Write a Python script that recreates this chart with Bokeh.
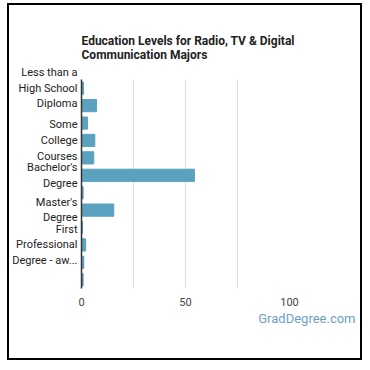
from bokeh.plotting import figure
from bokeh.models import FixedTicker, Range1d, Title, LinearAxis
from bokeh.embed import file_html
from bokeh.resources import INLINE

categories = [
    "Less than a High School Diploma",
    "High School Diploma",
    "Post-Secondary Certificate",
    "Some College Courses",
    "Associate's Degree",
    "Bachelor's Degree",
    "Post-Baccalaureate Certificate",
    "Master's Degree",
    "Post-Master's Certificate",
    "First Professional Degree - awarded",
    "Doctoral Degree",
    "Post-Doctoral Training",
]
values = [1.0, 7.2, 2.9, 6.4, 5.9, 54.3, 0.8, 15.5, 0.5, 2.0, 1.1, 0.8]
shown_labels = {
    "Less than a High School Diploma": "Less than a\nHigh School\nDiploma",
    "Some College Courses": "Some\nCollege\nCourses",
    "Bachelor's Degree": "Bachelor's\nDegree",
    "Master's Degree": "Master's\nDegree",
    "First Professional Degree - awarded": "First\nProfessional\nDegree - aw...",
}
x_ticks = [0, 50, 100]
grid_ticks = [25, 50, 75, 100]
title_text = "Education Levels for Radio, TV & Digital\nCommunication Majors"
watermark = "GradDegree.com"

idx = list(range(len(categories)))
FONT = "Roboto"

p = figure(width=351, height=353, output_backend="svg", toolbar_location=None,
           y_range=Range1d(len(categories) - 0.5, -0.5),
           x_range=Range1d(0, 100),
           min_border_left=71, min_border_right=71,
           min_border_top=74, min_border_bottom=70,
           styles={"margin-left": "9px", "margin-top": "5px",
                   "outline": "2px solid black"})
p.background_fill_color = "white"
p.border_fill_color = "white"
p.outline_line_color = None

p.title.text = title_text
p.title.text_font = FONT
p.title.text_font_size = "12px"
p.title.text_font_style = "bold"
p.title.text_color = "#222222"
p.title.align = "left"
p.title.standoff = 36

p.hbar(y=idx, right=values, left=0, height=0.7, color="#5ba2c1")

ax = p.yaxis[0]
ax.ticker = FixedTicker(ticks=idx)
ax.major_label_overrides = {i: shown_labels.get(c, "") for i, c in enumerate(categories)}
ax.major_label_text_font = FONT
ax.major_label_text_font_size = "11px"
ax.major_label_text_color = "#222222"
ax.major_tick_line_color = None
ax.minor_tick_line_color = None
ax.major_tick_out = 0
ax.major_tick_in = 0
ax.minor_tick_out = 0
ax.axis_line_color = "#333333"
ax.axis_line_width = 1.5
ax.major_label_standoff = 4

xa = p.xaxis[0]
xa.ticker = FixedTicker(ticks=x_ticks)
xa.major_label_text_font = FONT
xa.major_label_text_font_size = "11px"
xa.major_label_text_color = "#444444"
xa.major_tick_line_color = None
xa.minor_tick_line_color = None
xa.major_tick_out = 0
xa.major_tick_in = 0
xa.minor_tick_out = 0
xa.axis_line_color = None
xa.major_label_standoff = 9

p.xgrid.ticker = FixedTicker(ticks=grid_ticks)
p.xgrid.grid_line_color = "#dddddd"
p.ygrid.grid_line_color = None

# empty axis (no ticks drawn) used only as vertical spacing above the watermark
spacer = LinearAxis(ticker=FixedTicker(ticks=[]), axis_line_color=None,
                    major_tick_line_color="white", minor_tick_line_color=None,
                    major_tick_out=27, major_tick_in=0, minor_tick_out=0,
                    major_label_standoff=0)
p.add_layout(spacer, "below")

p.add_layout(Title(text=watermark, align="right", offset=-66, standoff=4,
                   vertical_align="top",
                   text_font=FONT, text_font_size="13px", text_font_style="normal",
                   text_color="#6d9fbd"), "below")

open("out.html", "w").write(file_html(p, INLINE))
